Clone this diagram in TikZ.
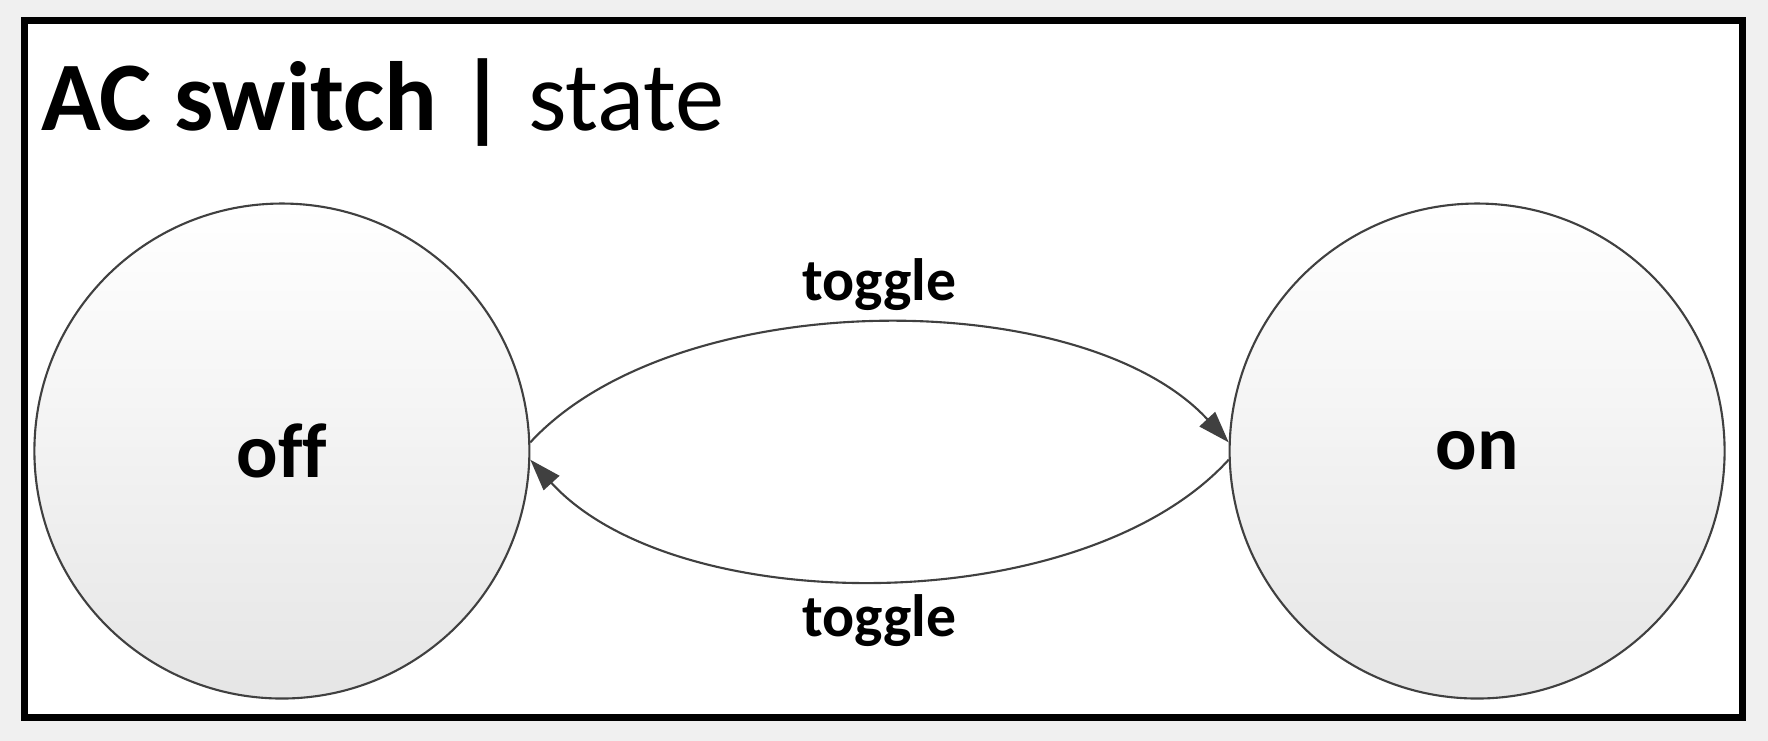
\documentclass[tikz,border=0pt]{standalone}
\usepackage{fontspec}
\setmainfont[Ligatures=NoCommon]{Carlito}
\usetikzlibrary{arrows.meta}
\begin{document}
\begin{tikzpicture}[x=0.011276cm,y=-0.011276cm,
  st/.style={circle,draw=black!75,line width=0.6pt,minimum size=4.95cm,top color=white,bottom color=black!10,font=\bfseries\fontsize{22}{26}\selectfont},
  tr/.style={draw=black!75,line width=0.6pt,-{Triangle[length=9pt,width=6pt]}},
  lbl/.style={font=\bfseries\fontsize{17}{20}\selectfont}]
\fill[black!6] (0,0) rectangle (1568,657);
\useasboundingbox (0,0) rectangle (1568,657);
\draw[line width=2pt,fill=white] (22,18) rectangle (1545,636);
\node[anchor=base west,inner sep=0,font=\fontsize{28}{32}\selectfont] (title) at (36,116) {\textbf{AC switch | }state};
\node[st] (off) at (250,400) {off};
\node[st] (on) at (1310,400) {on};
\draw[tr] (off.2) .. controls (600,252) and (960,252) .. (on.178);
\draw[tr] (on.182) .. controls (960,550) and (600,550) .. (off.358);
\node[lbl] (t1) at (780,252) {toggle};
\node[lbl] (t2) at (780,550) {toggle};
\end{tikzpicture}
\end{document}
